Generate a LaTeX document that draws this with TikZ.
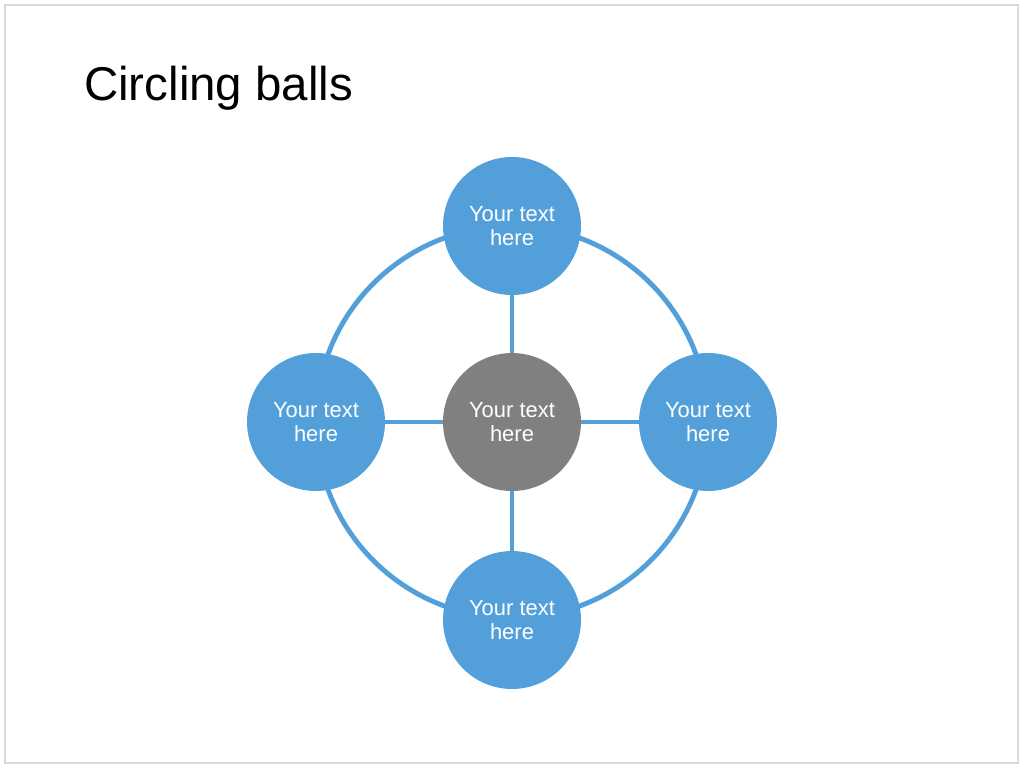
\documentclass[tikz,border=0pt]{standalone}
\usepackage{fontspec}
\setmainfont{Liberation Sans}
\definecolor{ballblue}{HTML}{529FD9}
\definecolor{ballgray}{HTML}{808080}
\tikzset{
  ball/.style={circle, fill=ballblue, minimum size=2.76cm, inner sep=0pt,
    text=white, align=center, font=\fontsize{12.5}{14}\selectfont},
  link/.style={draw=ballblue, line width=2.8pt}
}
\begin{document}
\begin{tikzpicture}[x=0.02cm, y=-0.02cm]
        \useasboundingbox (0,0) rectangle (1024,768);
        \draw[gray!30, line width=0.8pt] (5,5) rectangle (1018,763);
        \node[anchor=base west, font=\fontsize{27}{32}\selectfont] (title) at (78,100) {Circling balls};
        \draw[link] (512,422) circle (196);
        \node[ball, fill=ballgray] (hub) at (512,422) {Your text\\here};
        \node[ball] (top) at (512,226) {Your text\\here};
        \node[ball] (bottom) at (512,620) {Your text\\here};
        \node[ball] (left) at (316,422) {Your text\\here};
        \node[ball] (right) at (708,422) {Your text\\here};
        \foreach \n in {top, bottom, left, right}{
        \draw[link] (hub) -- (\n);}
\end{tikzpicture}
\end{document}
